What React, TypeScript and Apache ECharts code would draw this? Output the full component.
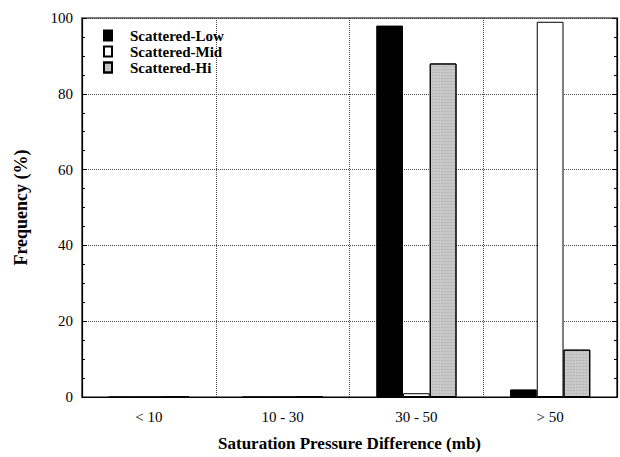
import React, { useEffect, useRef } from "react";
import * as echarts from "echarts";

const categories = ["< 10", "10 - 30", "30 - 50", "> 50"];
const lowValues = [0, 0, 98, 2];
const midValues = [0, 0, 1, 99];
const hiValues = [0, 0, 88, 12.5];
const seriesNames = ["Scattered-Low", "Scattered-Mid", "Scattered-Hi"];

const FONT = "'Liberation Serif', 'DejaVu Serif', serif";

export default function App() {
  const ref = useRef<HTMLDivElement>(null);
  useEffect(() => {
    if (!ref.current) return;
    const chart = echarts.init(ref.current, undefined, { renderer: "svg" });
    const yCommon = {
      type: "value" as const,
      min: 0,
      max: 100,
      interval: 20,
      axisLine: { show: true, lineStyle: { color: "#000", width: 1.2 } },
      axisTick: { show: true, inside: true, length: 5, lineStyle: { color: "#000" } },
      minorTick: { show: true, splitNumber: 4, length: 3, lineStyle: { color: "#000" } },
    };
    chart.setOption({
      animation: false,
      backgroundColor: "#fff",
      textStyle: { fontFamily: FONT, color: "#000" },
      grid: {
        left: 82,
        right: 3,
        top: 18,
        bottom: 54,
        show: true,
        borderColor: "#000",
        borderWidth: 1.2,
        backgroundColor: "transparent",
      },
      legend: {
        orient: "vertical",
        left: 103,
        top: 28,
        padding: 0,
        itemWidth: 8,
        itemHeight: 10,
        itemGap: 1,
        icon: "rect",
        textStyle: {
          fontFamily: FONT,
          fontWeight: "bold",
          fontSize: 15,
          color: "#000",
          padding: [0, 0, 0, 13],
        },
        data: seriesNames,
      },
      xAxis: {
        type: "category",
        data: categories,
        boundaryGap: true,
        axisLine: { show: true, lineStyle: { color: "#000", width: 1.2 } },
        axisTick: { show: false },
        splitLine: { show: true, lineStyle: { color: "#444", type: "dotted", width: 1 } },
        axisLabel: { fontFamily: FONT, fontSize: 15, color: "#000", margin: 12 },
        name: "Saturation Pressure Difference (mb)",
        nameLocation: "middle",
        nameGap: 38,
        nameTextStyle: { fontFamily: FONT, fontWeight: "bold", fontSize: 17, color: "#000" },
      },
      yAxis: [
        {
          ...yCommon,
          position: "left",
          splitLine: { show: true, lineStyle: { color: "#444", type: "dotted", width: 1 } },
          axisLabel: { fontFamily: FONT, fontSize: 15, color: "#000", margin: 9 },
          name: "Frequency (%)",
          nameLocation: "middle",
          nameGap: 52,
          nameTextStyle: { fontFamily: FONT, fontWeight: "bold", fontSize: 18, color: "#000" },
        },
        {
          ...yCommon,
          position: "right",
          splitLine: { show: false },
          axisLabel: { show: false },
        },
      ],
      series: [
        {
          name: seriesNames[0],
          type: "bar",
          data: lowValues,
          barWidth: "20%",
          barGap: "0%",
          itemStyle: { color: "#000", borderColor: "#000", borderWidth: 1 },
        },
        {
          name: seriesNames[1],
          type: "bar",
          data: midValues,
          barWidth: "20%",
          barGap: "0%",
          itemStyle: { color: "#fff", borderColor: "#000", borderWidth: 1 },
        },
        {
          name: seriesNames[2],
          type: "bar",
          data: hiValues,
          barWidth: "20%",
          barGap: "0%",
          itemStyle: {
            color: "#c8c8c8",
            borderColor: "#000",
            borderWidth: 1,
            decal: {
              symbol: "rect",
              symbolSize: 0.6,
              color: "rgba(60,60,60,0.45)",
              dashArrayX: [2, 1],
              dashArrayY: [1, 2],
              rotation: 0,
            },
          },
        },
      ],
    });
    return () => chart.dispose();
  }, []);
  return (
    <div
      ref={ref}
      style={{ position: "absolute", left: 0, top: 0, width: 620, height: 457 }}
    />
  );
}
